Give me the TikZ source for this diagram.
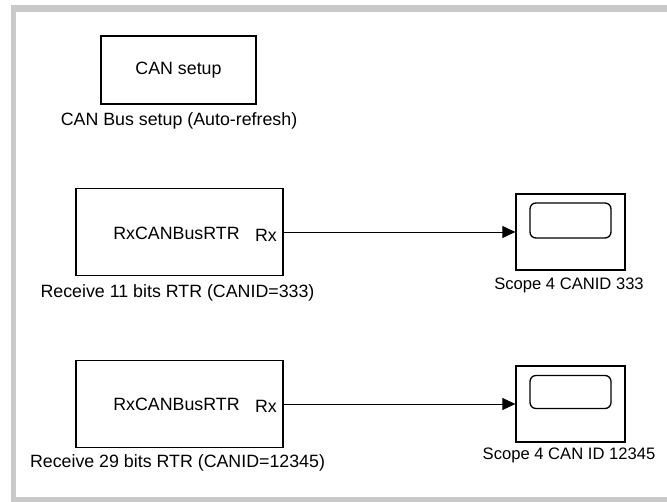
\documentclass[tikz,border=0pt]{standalone}
\usepackage{fontspec}
\setmainfont{Liberation Sans}
\usetikzlibrary{arrows.meta}

\tikzset{
  blk/.style={draw, line width=1.3pt, minimum width=#1, inner sep=0pt},
  lbl/.style={inner sep=0pt, font=\fontsize{17.8}{20}\selectfont},
  sclbl/.style={inner sep=0pt, font=\fontsize{16.6}{19}\selectfont},
  screen/.style={draw, line width=1.3pt, rounded corners=6pt, minimum width=81pt,
    minimum height=#1, inner sep=0pt},
  frame/.style={fill=black!21, draw=none},
}

\begin{document}
\begin{tikzpicture}[x=1pt, y=-1pt]
\useasboundingbox (0,0) rectangle (667,502);

% grey frame of the model window
\fill[frame] (11,5) rectangle (667,12);
\fill[frame] (11,5) rectangle (16,502);
\fill[frame] (11,497) rectangle (667,502);

% CAN setup block
\node[blk=155pt, minimum height=68pt] (setup) at (178.5,70) {};
\node[lbl] (setuptxt) at (setup) {CAN setup};
\node[lbl] (setuplbl) at (179,121) {CAN Bus setup (Auto-refresh)};

% receive blocks
\node[blk=207pt, minimum height=87pt] (rxa) at (179.5,232) {};
\node[lbl] (rxatxt) at (176.5,233) {RxCANBusRTR};
\node[lbl, anchor=east] (rxaport) at (277,235) {Rx};
\node[lbl] (rxalbl) at (177.5,293) {Receive 11 bits RTR (CANID=333)};

\node[blk=207pt, minimum height=87pt] (rxb) at (179.5,404) {};
\node[lbl] (rxbtxt) at (176.5,404) {RxCANBusRTR};
\node[lbl, anchor=east] (rxbport) at (277,406) {Rx};
\node[lbl] (rxblbl) at (177.5,463) {Receive 29 bits RTR (CANID=12345)};

% scopes
\node[blk=109pt, minimum height=76pt] (sca) at (570.5,232) {};
\node[screen=35pt] (scascreen) at (570.5,220.5) {};
\node[sclbl] (scalbl) at (569,285) {Scope 4 CANID 333};

\node[blk=109pt, minimum height=76pt] (scb) at (570.5,404) {};
\node[screen=33pt] (scbscreen) at (570.5,392) {};
\node[sclbl] (scblbl) at (569,455) {Scope 4 CAN ID 12345};

% signal lines
\draw[line width=0.8pt, -{Triangle[length=13pt,width=12pt]}] (rxa.east) -- (sca.west);
\draw[line width=0.8pt, -{Triangle[length=13pt,width=12pt]}] (rxb.east) -- (scb.west);

\end{tikzpicture}
\end{document}
